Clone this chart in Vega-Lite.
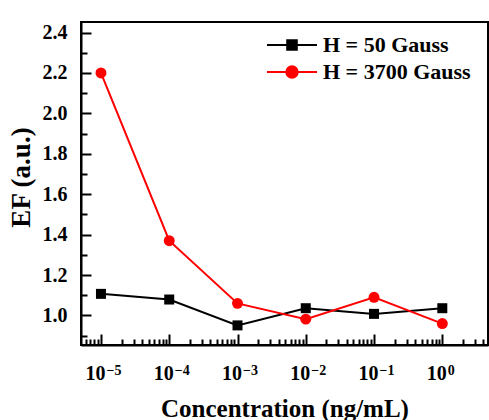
{
  "$schema": "https://vega.github.io/schema/vega-lite/v6.json",
  "width": 407,
  "height": 323,
  "autosize": "none",
  "padding": {"left": 81, "top": 22, "right": 1, "bottom": 75},
  "background": "white",
  "config": {
    "view": {"stroke": "black", "strokeWidth": 2},
    "axis": {
      "grid": false,
      "domainColor": "black",
      "domainWidth": 2,
      "tickColor": "black",
      "tickWidth": 2,
      "labelFont": "Liberation Serif",
      "labelFontWeight": "bold",
      "labelFontSize": 20,
      "labelColor": "black",
      "titleFont": "Liberation Serif",
      "titleFontWeight": "bold",
      "titleFontSize": 25,
      "titleColor": "black"
    },
    "legend": {
      "labelFont": "Liberation Serif",
      "labelFontWeight": "bold",
      "labelFontSize": 22,
      "labelColor": "black"
    }
  },
  "data": {
    "values": [
      {"conc": 0.00001, "ef": 1.107, "series": "H = 50 Gauss"},
      {"conc": 0.0001, "ef": 1.079, "series": "H = 50 Gauss"},
      {"conc": 0.001, "ef": 0.951, "series": "H = 50 Gauss"},
      {"conc": 0.01, "ef": 1.036, "series": "H = 50 Gauss"},
      {"conc": 0.1, "ef": 1.008, "series": "H = 50 Gauss"},
      {"conc": 1, "ef": 1.036, "series": "H = 50 Gauss"},
      {"conc": 0.00001, "ef": 2.2, "series": "H = 3700 Gauss"},
      {"conc": 0.0001, "ef": 1.37, "series": "H = 3700 Gauss"},
      {"conc": 0.001, "ef": 1.06, "series": "H = 3700 Gauss"},
      {"conc": 0.01, "ef": 0.982, "series": "H = 3700 Gauss"},
      {"conc": 0.1, "ef": 1.09, "series": "H = 3700 Gauss"},
      {"conc": 1, "ef": 0.96, "series": "H = 3700 Gauss"}
    ]
  },
  "resolve": {"axis": {"x": "independent", "y": "independent"}},
  "layer": [
    {
      "mark": {"type": "line", "strokeWidth": 2},
      "encoding": {
        "x": {
          "field": "conc", "type": "quantitative",
          "scale": {"type": "log", "domain": [0.0000051, 4.67], "nice": false},
          "axis": {
            "orient": "bottom",
            "title": "Concentration (ng/mL)",
            "values": [0.00001, 0.0001, 0.001, 0.01, 0.1, 1],
            "labelExpr": "'10'",
            "labelOffset": -6,
            "tickSize": -11,
            "labelPadding": 29,
            "titlePadding": 13
          }
        },
        "y": {
          "field": "ef", "type": "quantitative",
          "scale": {"domain": [0.854, 2.452], "nice": false, "zero": false},
          "axis": {
            "orient": "left",
            "title": "EF (a.u.)",
            "titleFontSize": 27,
            "titleY": 155,
            "values": [1.0, 1.2, 1.4, 1.6, 1.8, 2.0, 2.2, 2.4],
            "format": ".1f",
            "tickSize": -10,
            "labelPadding": 24,
            "titlePadding": 7
          }
        },
        "color": {
          "field": "series", "type": "nominal",
          "scale": {"domain": ["H = 50 Gauss", "H = 3700 Gauss"], "range": ["black", "#ff0000"]},
          "legend": {
            "title": null,
            "orient": "none",
            "legendX": 200,
            "legendY": 12,
            "padding": 0,
            "symbolSize": 144,
            "symbolStrokeWidth": 2,
            "labelOffset": 20,
            "rowPadding": 5,
            "encode": {
              "symbols": {
                "update": {
                  "shape": {"signal": "datum.value === 'H = 50 Gauss' ? 'M-4.17,0H4.17M-0.8,-0.8H0.8V0.8H-0.8Z' : 'M-4.17,0H4.17M0.95,0A0.95,0.95 0 1,1 -0.95,0A0.95,0.95 0 1,1 0.95,0Z'"},
                  "fill": {"signal": "datum.value === 'H = 50 Gauss' ? 'black' : '#ff0000'"},
                  "stroke": {"signal": "datum.value === 'H = 50 Gauss' ? 'black' : '#ff0000'"},
                  "strokeWidth": {"value": 2},
                  "opacity": {"value": 1}
                }
              }
            }
          }
        }
      }
    },
    {
      "transform": [{"filter": "datum.series === 'H = 50 Gauss'"}],
      "mark": {"type": "point", "shape": "square", "filled": true, "opacity": 1, "size": 100, "color": "black"},
      "encoding": {
        "x": {"field": "conc", "type": "quantitative", "axis": null},
        "y": {"field": "ef", "type": "quantitative", "axis": null}
      }
    },
    {
      "transform": [{"filter": "datum.series === 'H = 3700 Gauss'"}],
      "mark": {"type": "point", "shape": "circle", "filled": true, "opacity": 1, "size": 120, "color": "#ff0000"},
      "encoding": {
        "x": {"field": "conc", "type": "quantitative", "axis": null},
        "y": {"field": "ef", "type": "quantitative", "axis": null}
      }
    },
    {
      "mark": {"type": "point", "opacity": 0},
      "encoding": {
        "x": {
          "field": "conc", "type": "quantitative",
          "axis": {
            "orient": "bottom", "title": null, "labels": false, "domain": false,
            "tickSize": -6,
            "values": [0.000006, 0.000007, 0.000008, 0.000009,
              0.00002, 0.00003, 0.00004, 0.00005, 0.00006, 0.00007, 0.00008, 0.00009,
              0.0002, 0.0003, 0.0004, 0.0005, 0.0006, 0.0007, 0.0008, 0.0009,
              0.002, 0.003, 0.004, 0.005, 0.006, 0.007, 0.008, 0.009,
              0.02, 0.03, 0.04, 0.05, 0.06, 0.07, 0.08, 0.09,
              0.2, 0.3, 0.4, 0.5, 0.6, 0.7, 0.8, 0.9,
              2, 3, 4]
          }
        },
        "y": {
          "field": "ef", "type": "quantitative",
          "axis": {
            "orient": "left", "title": null, "labels": false, "domain": false,
            "tickSize": -6,
            "values": [0.9, 1.1, 1.3, 1.5, 1.7, 1.9, 2.1, 2.3]
          }
        }
      }
    },
    {
      "mark": {"type": "point", "opacity": 0},
      "encoding": {
        "x": {
          "field": "conc", "type": "quantitative",
          "axis": {
            "orient": "bottom", "title": null, "domain": false, "ticks": false,
            "values": [0.00001, 0.0001, 0.001, 0.01, 0.1, 1],
            "labelExpr": "['0','−1','−2','−3','−4','−5'][-round(log(datum.value)/LN10)]",
            "labelFontSize": 14,
            "labelAlign": "left",
            "labelBaseline": "top",
            "labelOffset": 5,
            "labelPadding": 18
          }
        }
      }
    }
  ]
}
